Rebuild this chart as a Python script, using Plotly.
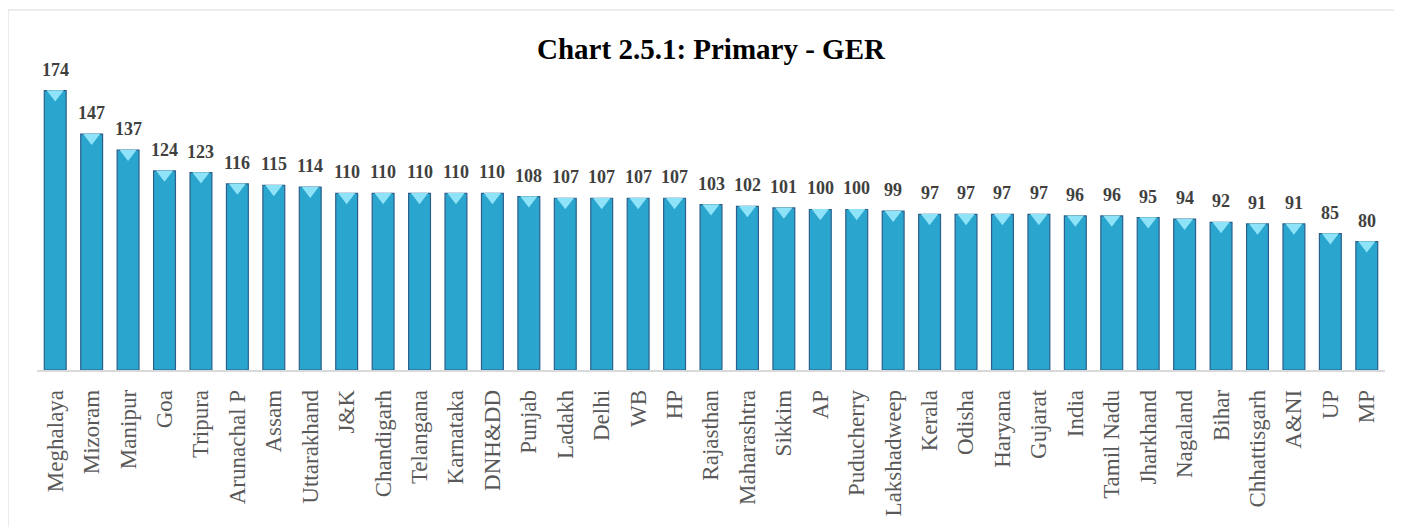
import plotly.graph_objects as go

states = ["Meghalaya", "Mizoram", "Manipur", "Goa", "Tripura", "Arunachal P", "Assam",
          "Uttarakhand", "J&K", "Chandigarh", "Telangana", "Karnataka", "DNH&DD", "Punjab",
          "Ladakh", "Delhi", "WB", "HP", "Rajasthan", "Maharashtra", "Sikkim", "AP",
          "Puducherry", "Lakshadweep", "Kerala", "Odisha", "Haryana", "Gujarat", "India",
          "Tamil Nadu", "Jharkhand", "Nagaland", "Bihar", "Chhattisgarh", "A&NI", "UP", "MP"]
ger = [174, 147, 137, 124, 123, 116, 115, 114, 110, 110, 110, 110, 110, 108, 107, 107,
       107, 107, 103, 102, 101, 100, 100, 99, 97, 97, 97, 97, 96, 96, 95, 94, 92, 91,
       91, 85, 80]

serif = "Liberation Serif, Times New Roman, serif"

fig = go.Figure()
fig.add_trace(go.Bar(
    x=states, y=ger, width=0.6,
    marker=dict(color="#2AA5CE", line=dict(color="#2B5F8C", width=1.2)),
    hoverinfo="x+y"
))
# light bevel on top of each bar
fig.add_trace(go.Scatter(
    x=states, y=[v - 2.1 for v in ger], mode="markers",
    marker=dict(symbol="triangle-down", size=15, color="#8FE3F8", line=dict(width=0)),
    hoverinfo="skip", showlegend=False
))

# value labels
for s, v in zip(states, ger):
    fig.add_annotation(x=s, y=v, text="<b>%d</b>" % v, showarrow=False,
                       yanchor="bottom", yshift=9,
                       font=dict(family=serif, size=18, color="#404040"))

fig.update_layout(
    width=1402, height=527,
    margin=dict(l=29, r=25, t=32, b=165),
    paper_bgcolor="white", plot_bgcolor="white",
    showlegend=False, bargap=0.4,
    title=dict(text="<b>Chart 2.5.1: Primary - GER</b>", x=0.5, xref="paper",
               xanchor="center", y=0.922, yanchor="middle",
               font=dict(family=serif, size=29, color="black")),
    xaxis=dict(tickangle=-90, tickfont=dict(family=serif, size=23, color="#595959"),
               showline=True, linecolor="#D9D9D9", linewidth=1.5, ticks="",
               ticklabelstandoff=9,
               showgrid=False, range=[-0.5, len(states) - 0.5]),
    yaxis=dict(range=[0, 205.6], visible=False, showgrid=False),
    shapes=[dict(type="rect", xref="paper", yref="paper",
                 x0=-0.0215, x1=1.1, y0=-0.7, y1=1.091,
                 line=dict(color="#D9D9D9", width=1), layer="below")]
)

fig.write_html("out.html")
